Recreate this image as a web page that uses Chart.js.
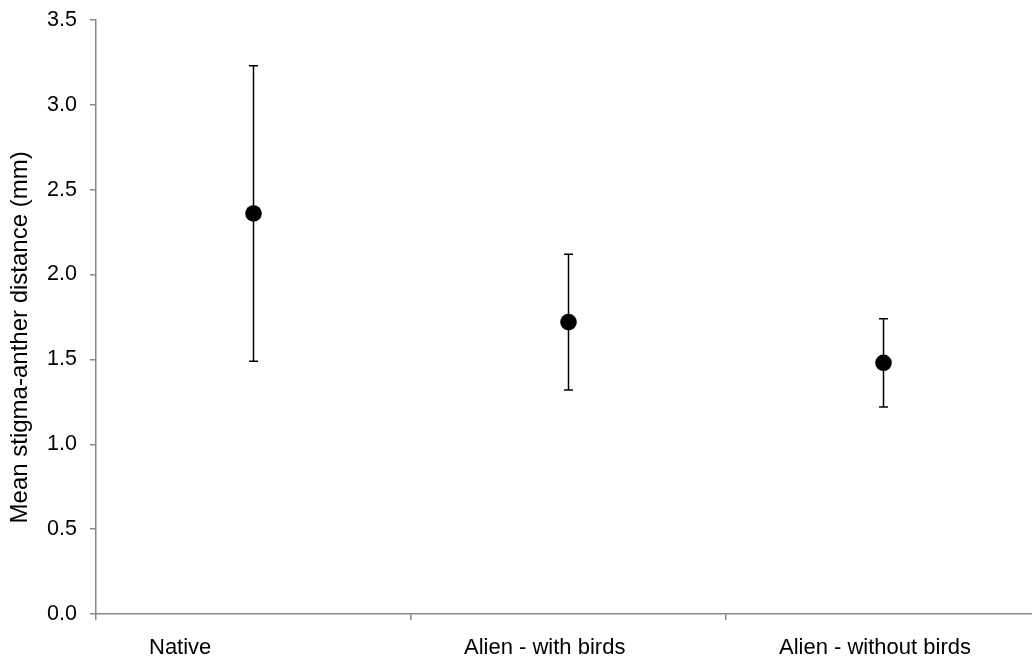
<!DOCTYPE html>
<html>
<head>
<meta charset="utf-8">
<script src="https://cdn.jsdelivr.net/npm/chart.js@4.4.1/dist/chart.umd.min.js"></script>
<style>
  html, body { margin: 0; padding: 0; background: #fff; overflow: hidden; }
  #chart { display: block; }
</style>
</head>
<body>
<canvas id="chart" width="1032" height="657"></canvas>
<script>
// Groups and their mean stigma-anther distance with error half-widths (mm)
const categories = ['Native', 'Alien - with birds', 'Alien - without birds'];
const meanDistance = [2.36, 1.72, 1.48];
const errorHalfWidth = [0.87, 0.40, 0.26];
const yTicks = [0, 0.5, 1.0, 1.5, 2.0, 2.5, 3.0, 3.5];
const yTitle = 'Mean stigma-anther distance (mm)';

// Group slots run from -0.5 to 2.5; the right edge of the last slot runs off the page
const xMin = -0.5;
const xMax = 2.4714;
const xSlotEdges = [-0.5, 0.5, 1.5];

const axisGrey = '#878787';
const fontFamily = '"Liberation Sans", Arial, sans-serif';

const points = meanDistance.map((m, i) => ({ x: i, y: m }));

// Vertical error bars with short caps, drawn beneath the markers
const errorBars = {
  id: 'errorBars',
  beforeDatasetsDraw(chart) {
    const ctx = chart.ctx;
    const xs = chart.scales.x, ys = chart.scales.y;
    ctx.save();
    ctx.strokeStyle = '#000';
    ctx.lineWidth = 1.5;
    meanDistance.forEach((m, i) => {
      const x = xs.getPixelForValue(i);
      const yTop = ys.getPixelForValue(m + errorHalfWidth[i]);
      const yBot = ys.getPixelForValue(m - errorHalfWidth[i]);
      ctx.beginPath();
      ctx.moveTo(x, yTop); ctx.lineTo(x, yBot);
      ctx.moveTo(x - 4.5, yTop); ctx.lineTo(x + 4.5, yTop);
      ctx.moveTo(x - 4.5, yBot); ctx.lineTo(x + 4.5, yBot);
      ctx.stroke();
    });
    ctx.restore();
  }
};

// Rotated value-axis title, set a little below the middle of the plot
const axisTitle = {
  id: 'axisTitle',
  afterDraw(chart) {
    const ctx = chart.ctx;
    const ys = chart.scales.y;
    const cy = ys.getPixelForValue(1.63);
    ctx.save();
    ctx.translate(20, cy);
    ctx.rotate(-Math.PI / 2);
    ctx.fillStyle = '#000';
    ctx.font = '24px ' + fontFamily;
    ctx.textAlign = 'center';
    ctx.textBaseline = 'middle';
    ctx.fillText(yTitle, 0, 0);
    ctx.restore();
  }
};

new Chart(document.getElementById('chart'), {
  type: 'scatter',
  data: {
    datasets: [{
      data: points,
      showLine: false,
      pointRadius: 8.3,
      pointHoverRadius: 8.3,
      pointBackgroundColor: '#000',
      pointBorderColor: '#000',
      pointBorderWidth: 0,
      clip: false
    }]
  },
  options: {
    responsive: false,
    maintainAspectRatio: false,
    devicePixelRatio: 1,
    animation: false,
    events: [],
    layout: { autoPadding: false, padding: { top: 20, right: 0, bottom: 0, left: 0 } },
    plugins: { legend: { display: false }, tooltip: { enabled: false } },
    scales: {
      x: {
        type: 'linear',
        min: xMin,
        max: xMax,
        afterBuildTicks(scale) { scale.ticks = xSlotEdges.map(v => ({ value: v })); },
        grid: {
          drawOnChartArea: false,
          drawTicks: true,
          tickLength: 6,
          color: axisGrey,
          lineWidth: 1.5
        },
        border: { display: true, color: axisGrey, width: 1.5 },
        ticks: {
          align: 'start',
          labelOffset: 53,
          padding: 15,
          maxRotation: 0,
          autoSkip: false,
          color: '#000',
          font: { family: fontFamily, size: 22 },
          callback: v => categories[Math.round(v + 0.5)]
        },
        afterFit(scale) {
          scale.height = 43;
          scale.paddingLeft = 0;
          scale.paddingRight = 0;
        }
      },
      y: {
        min: 0,
        max: 3.5,
        afterBuildTicks(scale) { scale.ticks = yTicks.map(v => ({ value: v })); },
        grid: {
          drawOnChartArea: false,
          drawTicks: true,
          tickLength: 6,
          color: axisGrey,
          lineWidth: 1.5
        },
        border: { display: true, color: axisGrey, width: 1.5 },
        ticks: {
          padding: 13,
          color: '#000',
          font: { family: fontFamily, size: 21.5 },
          callback: v => Number(v).toFixed(1)
        },
        afterFit(scale) {
          scale.width = 96;
          scale.paddingTop = 0;
          scale.paddingBottom = 0;
        }
      }
    }
  },
  plugins: [errorBars, axisTitle]
});
</script>
</body>
</html>
